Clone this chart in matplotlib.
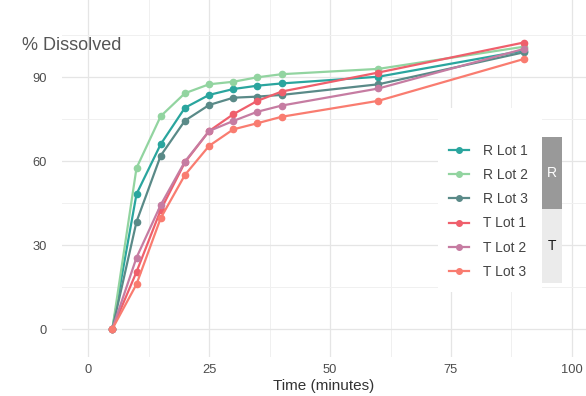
import matplotlib
matplotlib.use("Agg")
import matplotlib.pyplot as plt
from matplotlib.patches import Rectangle
from matplotlib.lines import Line2D

plt.rcParams['font.family'] = ['Liberation Sans', 'DejaVu Sans']

time = [5, 10, 15, 20, 25, 30, 35, 40, 60, 90]
series_names = ["R Lot 1", "R Lot 2", "R Lot 3", "T Lot 1", "T Lot 2", "T Lot 3"]
r_lot1 = [0, 48.2, 66.0, 79.0, 83.6, 85.7, 86.9, 87.7, 90.1, 99.4]
r_lot2 = [0, 57.5, 76.0, 84.2, 87.4, 88.3, 89.9, 91.0, 92.9, 100.8]
r_lot3 = [0, 38.3, 61.9, 74.4, 80.0, 82.6, 83.0, 83.6, 87.4, 98.8]
t_lot1 = [0, 20.4, 42.5, 59.5, 70.7, 76.7, 81.5, 84.8, 91.6, 102.3]
t_lot2 = [0, 25.5, 44.3, 59.8, 70.7, 74.3, 77.6, 79.8, 85.9, 100.0]
t_lot3 = [0, 16.0, 39.6, 55.0, 65.4, 71.3, 73.5, 75.8, 81.5, 96.4]
series_values = [r_lot1, r_lot2, r_lot3, t_lot1, t_lot2, t_lot3]
colors = ["#2aa59e", "#92d4a0", "#5a8a88", "#ef5f6c", "#c67ca2", "#f97c70"]
x_ticks = [0, 25, 50, 75, 100]
y_ticks = [0, 30, 60, 90]

W, H = 586, 396
fig = plt.figure(figsize=(W / 100, H / 100), dpi=100)
ax_left, ax_right, ax_top, ax_bot = 62, 586, 0, 357
ax = fig.add_axes([ax_left / W, 1 - ax_bot / H, (ax_right - ax_left) / W, (ax_bot - ax_top) / H])

for name, vals, c in zip(series_names, series_values, colors):
    ax.plot(time, vals, color=c, lw=1.6, marker='o', ms=4.5, label=name, zorder=3)

ax.set_xlim(-5.4, 102.9)
ax.set_ylim(-10.0, 117.5)
ax.set_xticks(x_ticks)
ax.set_yticks(y_ticks)
ax.set_xticks([12.5, 37.5, 62.5, 87.5], minor=True)
ax.set_yticks([15, 45, 75, 105], minor=True)
ax.grid(True, which='major', color='#e5e5e5', lw=0.9)
ax.grid(True, which='minor', color='#f0f0f0', lw=0.7)
ax.set_axisbelow(True)
for s in ax.spines.values():
    s.set_visible(False)
ax.tick_params(which='both', length=0, labelsize=9.3, labelcolor='#4d4d4d')
ax.tick_params(axis='y', pad=11)
ax.tick_params(axis='x', pad=5)
ax.set_xlabel("Time (minutes)", fontsize=11, color='#333333', labelpad=2)
fig.text(22 / W, 1 - 45 / H, "% Dissolved", fontsize=13, color='#555555', va='center', ha='left')

# legend background
fig.patches.append(Rectangle((438 / W, 1 - 292 / H), (542 - 438) / W, (292 - 108) / H,
                             transform=fig.transFigure, facecolor='white', edgecolor='none', zorder=5))
handles = [Line2D([], [], color=c, lw=1.6, marker='o', ms=4) for c in colors]
leg = fig.legend(handles, series_names, loc='upper left', bbox_to_anchor=(443 / W, 1 - 138 / H),
                 frameon=False, fontsize=10, labelcolor='#444444', handlelength=1.5,
                 handletextpad=0.95, labelspacing=0.74, borderaxespad=0)
leg.set_zorder(6)
# strip
fig.patches.append(Rectangle((542 / W, 1 - 209 / H), 20 / W, (209 - 137) / H,
                             transform=fig.transFigure, facecolor='#999999', edgecolor='none', zorder=6))
fig.patches.append(Rectangle((542 / W, 1 - 283 / H), 20 / W, (283 - 209) / H,
                             transform=fig.transFigure, facecolor='#ebebeb', edgecolor='none', zorder=6))
fig.text(552 / W, 1 - 173 / H, "R", color='white', fontsize=10, ha='center', va='center', zorder=7)
fig.text(552 / W, 1 - 246 / H, "T", color='#1a1a1a', fontsize=10, ha='center', va='center', zorder=7)

fig.savefig("out.png", dpi=100, facecolor='white')
